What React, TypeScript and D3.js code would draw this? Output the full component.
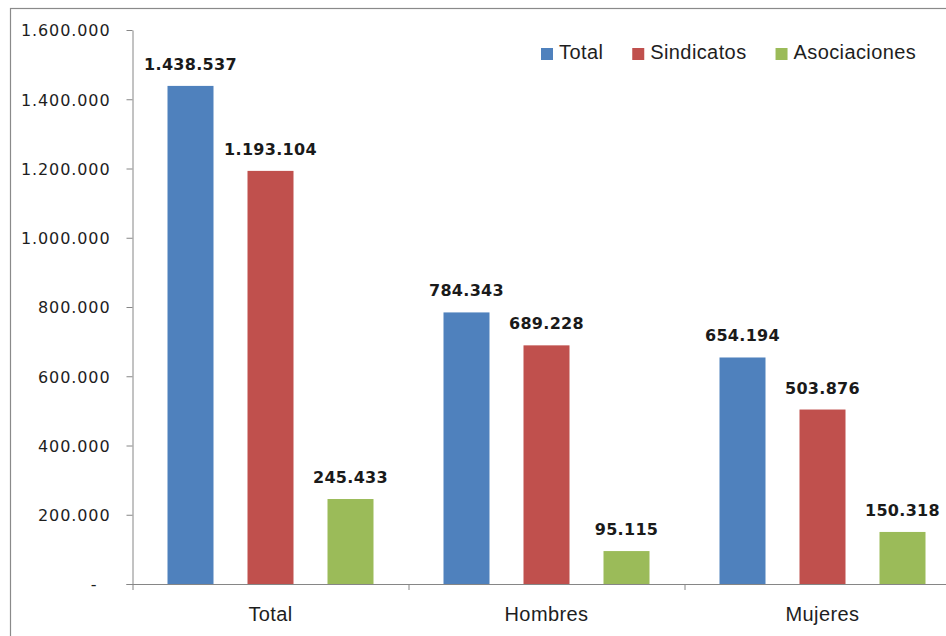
import React, { useEffect, useRef } from 'react';
import * as d3 from 'd3';

const categories = ['Total', 'Hombres', 'Mujeres'];
const seriesNames = ['Total', 'Sindicatos', 'Asociaciones'];
const totalValues = [1438537, 784343, 654194];
const sindicatosValues = [1193104, 689228, 503876];
const asociacionesValues = [245433, 95115, 150318];
const yTicks = [0, 200000, 400000, 600000, 800000, 1000000, 1200000, 1400000, 1600000];
const colors = ['#4F81BD', '#C0504D', '#9BBB59'];

const W = 946;
const H = 636;

const App: React.FC = () => {
  const svgRef = useRef<SVGSVGElement>(null);

  useEffect(() => {
    if (!svgRef.current) return;
    const svg = d3.select(svgRef.current);
    svg.selectAll('*').remove();

    const locale = d3.formatLocale({ decimal: ',', thousands: '.', grouping: [3], currency: ['', ''] });
    const fmt = locale.format(',d');

    const plotLeft = 132.5;
    const plotRight = 960.5;
    const y0 = 584;
    const yTop = 30;
    const axisColor = '#868686';

    // outer frame (cropped on the right and bottom)
    svg.append('rect')
      .attr('x', 10.5).attr('y', 8.5)
      .attr('width', 980).attr('height', 700)
      .attr('fill', 'white')
      .attr('stroke', '#8a8a8a')
      .attr('stroke-width', 1.2);

    const x0 = d3.scaleBand<string>().domain(categories).range([plotLeft, plotRight]).paddingInner(0).paddingOuter(0);
    const x1 = d3.scaleBand<string>().domain(seriesNames).range([0, x0.bandwidth()]).paddingInner(0.425).paddingOuter(0.4375);
    const y = d3.scaleLinear().domain([0, 1600000]).range([y0, yTop]);

    // y axis
    const yAxis = d3.axisLeft(y)
      .tickValues(yTicks)
      .tickSize(6)
      .tickSizeOuter(0)
      .tickPadding(18)
      .tickFormat(d => (+d === 0 ? '-' : fmt(+d)));

    const gy = svg.append('g').attr('transform', `translate(${plotLeft},0)`).call(yAxis);
    gy.select('.domain').attr('stroke', axisColor);
    gy.selectAll('.tick line').attr('stroke', axisColor);
    gy.selectAll('.tick text')
      .attr('font-family', 'DejaVu Sans, sans-serif')
      .attr('font-size', 16)
      .attr('letter-spacing', 0.9)
      .attr('fill', '#1e1e1e')
      .attr('dy', '0.36em')
      .attr('x', (d: any) => (+d === 0 ? -35 : -22));

    // x axis
    svg.append('line')
      .attr('x1', plotLeft - 6).attr('x2', plotRight)
      .attr('y1', y0 + 0.5).attr('y2', y0 + 0.5)
      .attr('stroke', axisColor);
    svg.append('g').selectAll('line')
      .data(categories)
      .join('line')
      .attr('x1', d => (x0(d) as number) + 0.5)
      .attr('x2', d => (x0(d) as number) + 0.5)
      .attr('y1', y0)
      .attr('y2', y0 + 6)
      .attr('stroke', axisColor);
    svg.append('g').selectAll('text')
      .data(categories)
      .join('text')
      .attr('x', d => (x0(d) as number) + x0.bandwidth() / 2)
      .attr('y', 621)
      .attr('text-anchor', 'middle')
      .attr('font-family', 'Liberation Sans, Arial, sans-serif')
      .attr('font-size', 20)
      .attr('letter-spacing', 0.4)
      .attr('fill', '#1e1e1e')
      .text(d => d);

    // bars
    const seriesValues = [totalValues, sindicatosValues, asociacionesValues];
    const rows = categories.flatMap((c, ci) =>
      seriesNames.map((s, si) => ({ cat: c, series: s, si, value: seriesValues[si][ci] }))
    );

    svg.append('g').selectAll('rect')
      .data(rows)
      .join('rect')
      .attr('x', d => (x0(d.cat) as number) + (x1(d.series) as number))
      .attr('y', d => y(d.value))
      .attr('width', x1.bandwidth())
      .attr('height', d => y0 - y(d.value))
      .attr('fill', d => colors[d.si]);

    svg.append('g').selectAll('text')
      .data(rows)
      .join('text')
      .attr('x', d => (x0(d.cat) as number) + (x1(d.series) as number) + x1.bandwidth() / 2)
      .attr('y', d => y(d.value) - 16)
      .attr('text-anchor', 'middle')
      .attr('font-family', 'DejaVu Sans, sans-serif')
      .attr('font-weight', 'bold')
      .attr('font-size', 16)
      .attr('letter-spacing', 0.3)
      .attr('fill', '#1a1a1a')
      .text(d => fmt(d.value));

    // legend
    const legend = svg.append('g');
    let lx = 541;
    seriesNames.forEach((name, i) => {
      legend.append('rect')
        .attr('x', lx).attr('y', 48)
        .attr('width', 12).attr('height', 12)
        .attr('fill', colors[i]);
      const t = legend.append('text')
        .attr('x', lx + 18)
        .attr('y', 59)
        .attr('font-family', 'Liberation Sans, Arial, sans-serif')
        .attr('font-size', 20)
        .attr('letter-spacing', 0.4)
        .attr('fill', '#1e1e1e')
        .text(name);
      const w = (t.node() as SVGTextElement).getComputedTextLength();
      lx += 18 + w + 29;
    });
  }, []);

  return (
    <div style={{ position: 'absolute', left: 0, top: 0, width: W, height: H, background: 'white' }}>
      <svg ref={svgRef} width={W} height={H} />
    </div>
  );
};

export default App;
